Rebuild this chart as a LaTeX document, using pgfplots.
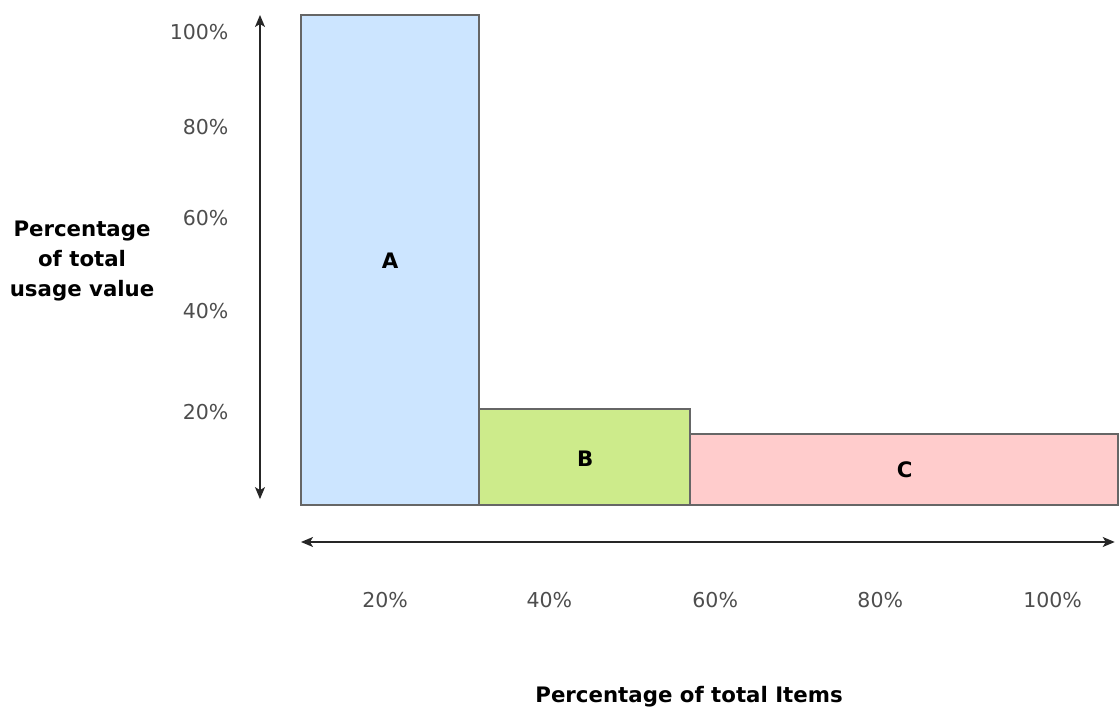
\documentclass[border=0pt]{standalone}
\usepackage{fontspec}
\setmainfont{DejaVu Sans}
\usepackage{pgfplots}
\pgfplotsset{compat=1.18}
\usetikzlibrary{arrows.meta}

\definecolor{fillA}{HTML}{CCE5FF}
\definecolor{fillB}{HTML}{CDEB8B}
\definecolor{fillC}{HTML}{FFCCCC}
\definecolor{edge}{HTML}{666666}
\definecolor{ticktext}{HTML}{4D4D4D}

\begin{document}
\begin{tikzpicture}[
    tl/.style={text=ticktext, font=\fontsize{20.5}{24}\selectfont},
    bl/.style={font=\fontsize{21.3}{30}\selectfont\bfseries},
    arr/.style={{Stealth[length=12pt,width=10pt,inset=3pt]}-{Stealth[length=12pt,width=10pt,inset=3pt]}, line width=1.5pt, black!85},
]
\begin{axis}[
    width=1119pt, height=711pt,
    scale only axis,
    axis lines=none,
    xmin=-36.842, xmax=100.122,
    ymin=-42.041, ymax=103.061,
    clip=false,
]
% bars: x = share of items, y = share of usage value
\addplot[fill=fillA, draw=edge, line width=1.4pt] coordinates {(0,0) (0,100) (21.79,100) (21.79,0)} -- cycle;
\addplot[fill=fillB, draw=edge, line width=1.4pt] coordinates {(21.79,0) (21.79,19.6) (47.61,19.6) (47.61,0)} -- cycle;
\addplot[fill=fillC, draw=edge, line width=1.4pt] coordinates {(47.61,0) (47.61,14.5) (100,14.5) (100,0)} -- cycle;

\node[bl] at (axis cs:10.9,49.8) {A};
\node[bl] at (axis cs:34.8,9.4) {B};
\node[bl] at (axis cs:73.9,7.1) {C};

% arrows
\draw[arr] (axis cs:-5.02,100) -- (axis cs:-5.02,1.2);
\draw[arr] (axis cs:0,-7.55) -- (axis cs:99.6,-7.55);

% y tick labels
\node[anchor=east, tl] at (axis cs:-8.45,96.5) {100\%};
\node[anchor=east, tl] at (axis cs:-8.45,77.1) {80\%};
\node[anchor=east, tl] at (axis cs:-8.45,58.6) {60\%};
\node[anchor=east, tl] at (axis cs:-8.45,39.6) {40\%};
\node[anchor=east, tl] at (axis cs:-8.45,19.0) {20\%};
% x tick labels
\node[tl] at (axis cs:10.3,-19.4) {20\%};
\node[tl] at (axis cs:30.4,-19.4) {40\%};
\node[tl] at (axis cs:50.7,-19.4) {60\%};
\node[tl] at (axis cs:70.9,-19.4) {80\%};
\node[tl] at (axis cs:92.0,-19.4) {100\%};

% axis titles
\node[align=center, bl] at (axis cs:-26.8,49.8) {Percentage\\of total\\usage value};
\node[bl] at (axis cs:47.5,-39.2) {Percentage of total Items};
\end{axis}
\pgfresetboundingbox
\path (current axis.south west) rectangle (current axis.north east);
\end{tikzpicture}
\end{document}
